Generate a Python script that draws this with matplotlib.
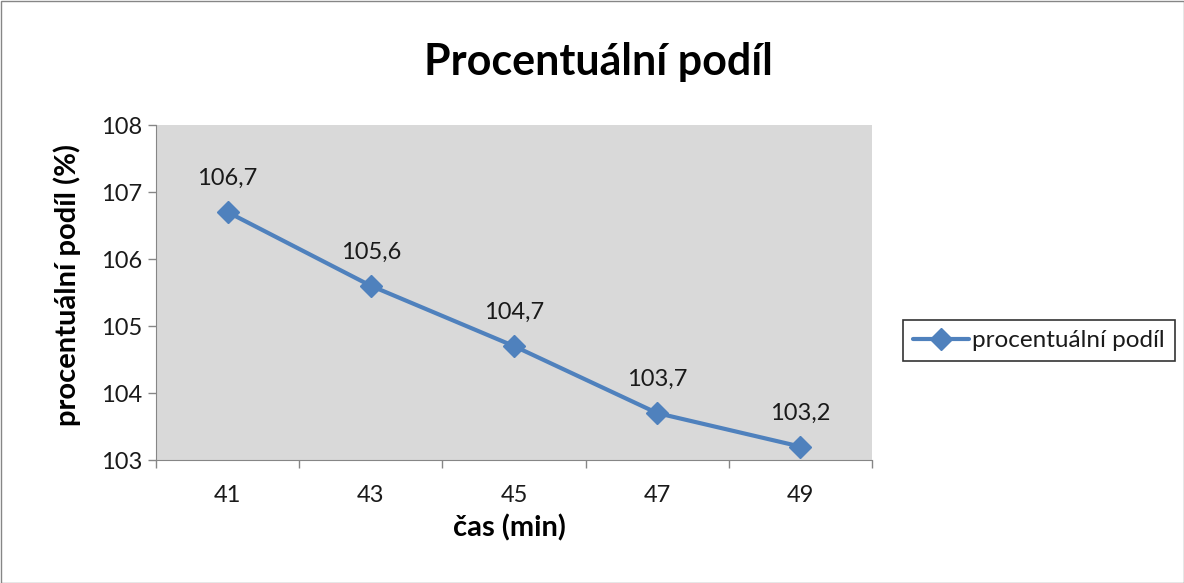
import matplotlib
matplotlib.use("Agg")
import matplotlib.pyplot as plt
from matplotlib.patches import Rectangle

categories = ["41", "43", "45", "47", "49"]
values = [106.7, 105.6, 104.7, 103.7, 103.2]
labels = ["106,7", "105,6", "104,7", "103,7", "103,2"]
yticks = [103, 104, 105, 106, 107, 108]

plt.rcParams['font.family'] = ['Lato', 'DejaVu Sans']

W, H = 1184, 583
fig = plt.figure(figsize=(W / 100, H / 100), dpi=100)
ax = fig.add_axes([156 / W, 1 - 460 / H, (872 - 156) / W, (460 - 125) / H])
ax.set_facecolor('#D9D9D9')

x = list(range(len(categories)))
ax.plot(x, values, color='#4F81BD', lw=3, marker='D', ms=11, label='procentuální podíl',
        solid_capstyle='round')
for xi, v, t in zip(x, values, labels):
    ax.annotate(t, (xi, v), xytext=(0, 24), textcoords='offset points', ha='center', va='center',
                fontsize=17, color='#1a1a1a')

ax.set_xlim(-0.5, len(categories) - 0.5)
ax.set_ylim(103, 108)
ax.set_yticks(yticks)
ax.set_yticklabels([str(t) for t in yticks], fontsize=17, color='#1a1a1a')
ax.set_xticks([i - 0.5 for i in range(len(categories) + 1)])
ax.set_xticklabels([])
ax.set_xticks(x, minor=True)
ax.set_xticklabels(categories, minor=True, fontsize=17, color='#1a1a1a')
ax.tick_params(axis='x', which='minor', length=0, pad=18)
ax.tick_params(axis='x', which='major', length=6, color='#868686', width=1)
ax.tick_params(axis='y', length=6, color='#868686', width=1, pad=4)
for s in ['top', 'right']:
    ax.spines[s].set_visible(False)
for s in ['left', 'bottom']:
    ax.spines[s].set_color('#868686')

fig.text(509 / W, 1 - 528 / H, 'čas (min)', fontsize=21, fontweight='bold', ha='center', va='center')
fig.text(67 / W, 1 - 285 / H, 'procentuální podíl (%)', fontsize=21, fontweight='bold',
         ha='center', va='center', rotation=90)
fig.text(598 / W, 1 - 62 / H, 'Procentuální podíl', fontsize=31, fontweight='bold', ha='center', va='center')

leg = fig.legend(loc='center', bbox_to_anchor=(1039 / W, 1 - 340.5 / H), fontsize=17.5,
                 frameon=True, fancybox=False, edgecolor='black', handlelength=2.3,
                 handletextpad=0.15, borderpad=0.4, borderaxespad=0)
leg.get_frame().set_linewidth(1.2)
for t in leg.get_texts():
    t.set_color('#1a1a1a')

fig.patches.append(Rectangle((0.5 / W, 0.5 / H), 1 - 1 / W, 1 - 1 / H, transform=fig.transFigure,
                             fill=False, edgecolor='#868686', lw=1))
fig.savefig('out.png', dpi=100)
